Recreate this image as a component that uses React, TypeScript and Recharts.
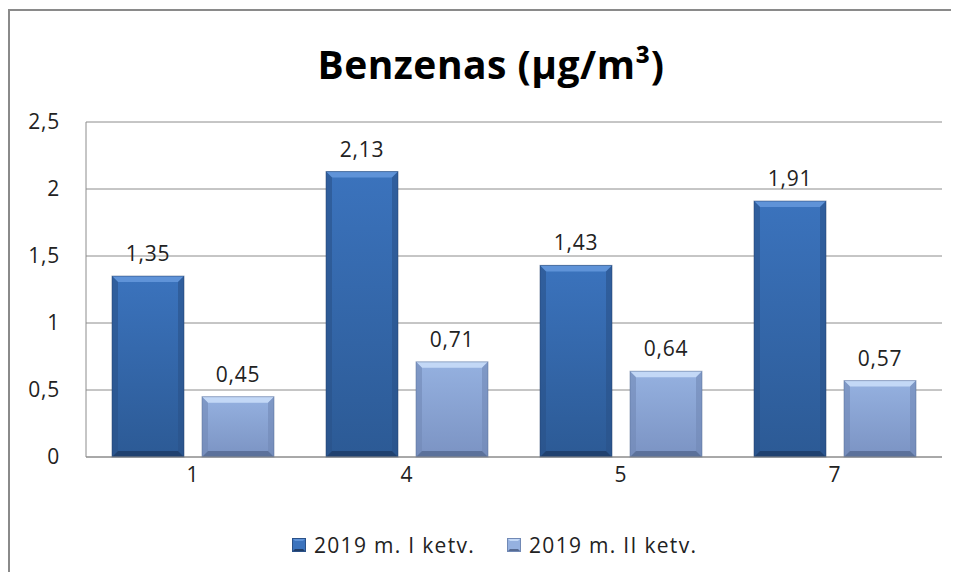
import React from 'react';
import { BarChart, Bar, XAxis, YAxis, CartesianGrid, LabelList, Legend } from 'recharts';

const categories = ['1', '4', '5', '7'];
const q1Values = [1.35, 2.13, 1.43, 1.91];
const q2Values = [0.45, 0.71, 0.64, 0.57];
const seriesNames = ['2019 m. I ketv.', '2019 m. II ketv.'];
const yTicks = [0, 0.5, 1, 1.5, 2, 2.5];

const data = categories.map((c, i) => ({ cat: c, q1: q1Values[i], q2: q2Values[i] }));

const FONT = '"Open Sans", "Noto Sans", sans-serif';

const palettes = {
  q1: { top: '#3b73bd', bottom: '#2c5a95', bevelTop: '#5f93d8', side: '#2a5188', bevelBottom: '#1f3d68' },
  q2: { top: '#95b1e0', bottom: '#7b93c3', bevelTop: '#c3d8f6', side: '#7189b5', bevelBottom: '#566b93' },
};

const comma = (v: number) => String(v).replace('.', ',');

const makeShape = (key: 'q1' | 'q2') => (props: any) => {
  const { x, y, width, height } = props;
  if (!height || height <= 0) return <g />;
  const p = palettes[key];
  const b = Math.min(6, width / 6, height / 3);
  return (
    <g>
      <rect x={x} y={y} width={width} height={height} fill={`url(#grad-${key})`} />
      <polygon points={`${x},${y} ${x + width},${y} ${x + width - b},${y + b} ${x + b},${y + b}`} fill={p.bevelTop} />
      <polygon points={`${x},${y} ${x + b},${y + b} ${x + b},${y + height - b} ${x},${y + height}`} fill={p.side} opacity={0.6} />
      <polygon points={`${x + width},${y} ${x + width - b},${y + b} ${x + width - b},${y + height - b} ${x + width},${y + height}`} fill={p.side} opacity={0.6} />
      <polygon points={`${x},${y + height} ${x + b},${y + height - b} ${x + width - b},${y + height - b} ${x + width},${y + height}`} fill={p.bevelBottom} opacity={0.85} />
      <rect x={x} y={y} width={width} height={height} fill="none" stroke={p.bevelBottom} strokeWidth={1} opacity={0.5} />
    </g>
  );
};

const LegendIcon = ({ k }: { k: 'q1' | 'q2' }) => {
  const p = palettes[k];
  return (
    <svg width={14} height={14} style={{ marginRight: 8, verticalAlign: 'middle' }}>
      <rect x={0} y={0} width={14} height={14} fill={p.top} />
      <polygon points="0,0 14,0 11,3 3,3" fill={p.bevelTop} />
      <polygon points="0,14 3,11 11,11 14,14" fill={p.bevelBottom} />
      <rect x={0.5} y={0.5} width={13} height={13} fill="none" stroke={p.side} />
    </svg>
  );
};

const renderLegend = () => (
  <div style={{ display: 'flex', alignItems: 'center', height: 24, fontFamily: FONT, fontSize: 21, color: '#222', letterSpacing: 1.3 }}>
    <span style={{ display: 'flex', alignItems: 'center', marginRight: 32 }}>
      <LegendIcon k="q1" />
      {seriesNames[0]}
    </span>
    <span style={{ display: 'flex', alignItems: 'center' }}>
      <LegendIcon k="q2" />
      {seriesNames[1]}
    </span>
  </div>
);

export default function App() {
  const tickStyle = { fontFamily: FONT, fontSize: 21, fill: '#222', letterSpacing: 0.8 };
  return (
    <div style={{ position: 'relative', width: 959, height: 580, margin: -8, overflow: 'hidden', background: '#fff' }}>
      <div style={{ position: 'absolute', left: 8, top: 9, width: 1000, height: 700, border: '2px solid #8a8a8a' }} />
      <div
        style={{
          position: 'absolute',
          left: 0,
          width: 982,
          top: 40,
          textAlign: 'center',
          fontFamily: FONT,
          fontWeight: 700,
          fontSize: 39,
          letterSpacing: 0.5,
          lineHeight: '48px',
          color: '#000',
        }}
      >
        Benzenas (µg/m³)
      </div>
      <div style={{ position: 'absolute', left: 0, top: 0 }}>
        <BarChart
          width={959}
          height={580}
          data={data}
          margin={{ top: 122, right: 17, left: 0, bottom: 69 }}
          barSize={72}
          barGap={18}
        >
          <defs>
            {(['q1', 'q2'] as const).map((k) => (
              <linearGradient key={k} id={`grad-${k}`} x1="0" y1="0" x2="0" y2="1">
                <stop offset="0%" stopColor={palettes[k].top} />
                <stop offset="100%" stopColor={palettes[k].bottom} />
              </linearGradient>
            ))}
          </defs>
          <CartesianGrid vertical={false} stroke="#8c8c8c" strokeWidth={1} />
          <XAxis
            dataKey="cat"
            height={30}
            tickLine={false}
            axisLine={{ stroke: '#8c8c8c' }}
            tick={tickStyle}
            tickMargin={4}
          />
          <YAxis
            width={86}
            domain={[0, 2.5]}
            ticks={yTicks}
            tickFormatter={comma}
            tickLine={false}
            tickSize={0}
            tickMargin={26}
            axisLine={{ stroke: '#8c8c8c' }}
            tick={tickStyle}
            interval={0}
          />
          <Legend
            content={renderLegend}
            verticalAlign="bottom"
            wrapperStyle={{ left: 292, top: 533, bottom: 'auto', width: 'auto' }}
          />
          <Bar dataKey="q1" name={seriesNames[0]} fill={palettes.q1.top} shape={makeShape('q1')} isAnimationActive={false}>
            <LabelList dataKey="q1" position="top" offset={15} formatter={(v: any) => comma(v)} style={tickStyle} />
          </Bar>
          <Bar dataKey="q2" name={seriesNames[1]} fill={palettes.q2.top} shape={makeShape('q2')} isAnimationActive={false}>
            <LabelList dataKey="q2" position="top" offset={15} formatter={(v: any) => comma(v)} style={tickStyle} />
          </Bar>
        </BarChart>
      </div>
    </div>
  );
}
